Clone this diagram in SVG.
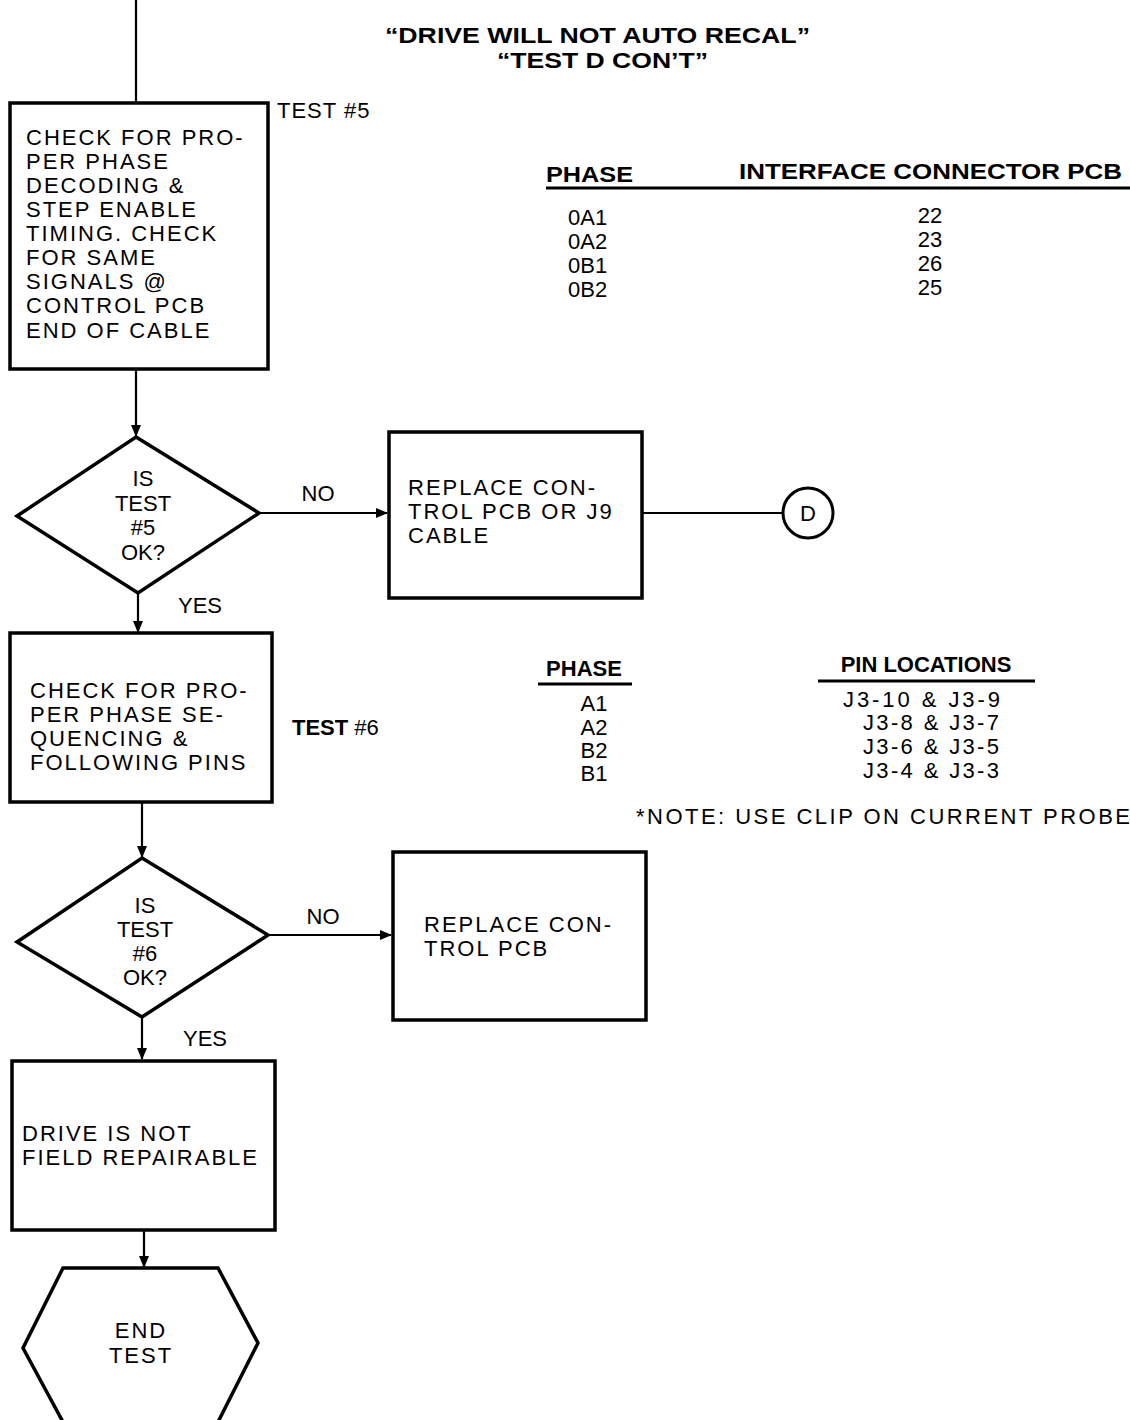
<svg xmlns="http://www.w3.org/2000/svg" width="1130" height="1420" viewBox="0 0 1130 1420">
<style>
.bx{fill:#fff;stroke:#000;stroke-width:3.5}
.ln{fill:none;stroke:#000;stroke-width:2.2}
.t{font-family:"Liberation Sans",Arial,sans-serif;font-size:22px;fill:#000}
.bt{letter-spacing:2px}
.c{text-anchor:middle}
.b{font-weight:bold}
.ul{stroke:#000;stroke-width:2.8}
</style>
<defs>
<marker id="ah" markerWidth="12" markerHeight="10" refX="11" refY="5" orient="auto" markerUnits="userSpaceOnUse">
<path d="M0,0 L12,5 L0,10 Z" fill="#000"/>
</marker>
</defs>
<rect width="1130" height="1420" fill="#fff"/>

<g id="title">
<text class="t b" x="385" y="43" font-size="26" textLength="425" lengthAdjust="spacingAndGlyphs">“DRIVE WILL NOT AUTO RECAL”</text>
<text class="t b" x="497" y="68" font-size="26" textLength="211" lengthAdjust="spacingAndGlyphs">“TEST D CON’T”</text>
</g>

<g id="connectors">
<line class="ln" x1="136" y1="0" x2="136" y2="102"/>
<line class="ln" x1="136" y1="370" x2="136" y2="436" marker-end="url(#ah)"/>
<line class="ln" x1="259" y1="513" x2="387" y2="513" marker-end="url(#ah)"/>
<line class="ln" x1="642" y1="513" x2="783" y2="513"/>
<line class="ln" x1="138" y1="593" x2="138" y2="632" marker-end="url(#ah)"/>
<line class="ln" x1="142" y1="802" x2="142" y2="857" marker-end="url(#ah)"/>
<line class="ln" x1="268" y1="935" x2="391" y2="935" marker-end="url(#ah)"/>
<line class="ln" x1="142" y1="1017" x2="142" y2="1059" marker-end="url(#ah)"/>
<line class="ln" x1="144" y1="1230" x2="144" y2="1267" marker-end="url(#ah)"/>
<text class="t" x="318" y="501" text-anchor="middle" font-size="23">NO</text>
<text class="t" x="200" y="613" text-anchor="middle" font-size="23">YES</text>
<text class="t" x="323" y="924" text-anchor="middle" font-size="23">NO</text>
<text class="t" x="205" y="1046" text-anchor="middle" font-size="23">YES</text>
</g>

<g id="test5">
<rect class="bx" x="10" y="103" width="258" height="266"/>
<text class="t bt" x="26" y="145">CHECK FOR PRO-</text>
<text class="t bt" x="26" y="169">PER PHASE</text>
<text class="t bt" x="26" y="193">DECODING &amp;</text>
<text class="t bt" x="26" y="217">STEP ENABLE</text>
<text class="t bt" x="26" y="241">TIMING. CHECK</text>
<text class="t bt" x="26" y="265">FOR SAME</text>
<text class="t bt" x="26" y="289">SIGNALS @</text>
<text class="t bt" x="26" y="313">CONTROL PCB</text>
<text class="t bt" x="26" y="338">END OF CABLE</text>
<text class="t" x="277" y="118" font-size="23" letter-spacing="1">TEST #5</text>
</g>

<g id="dec5">
<polygon class="bx" points="136,437 259,513 138,593 17,516"/>
<text class="t c" x="143" y="486">IS</text>
<text class="t c" x="143" y="511">TEST</text>
<text class="t c" x="143" y="535">#5</text>
<text class="t c" x="143" y="560">OK?</text>
</g>

<g id="replace1">
<rect class="bx" x="389" y="432" width="253" height="166"/>
<text class="t bt" x="408" y="495">REPLACE CON-</text>
<text class="t bt" x="408" y="519">TROL PCB OR J9</text>
<text class="t bt" x="408" y="543">CABLE</text>
</g>

<g id="connD">
<circle cx="808" cy="513" r="25" fill="#fff" stroke="#000" stroke-width="3"/>
<text class="t c" x="808" y="521" font-size="23">D</text>
</g>

<g id="table1">
<text class="t b" x="546" y="182" font-size="25" textLength="87" lengthAdjust="spacingAndGlyphs">PHASE</text>
<text class="t b" x="739" y="179" font-size="25" textLength="383" lengthAdjust="spacingAndGlyphs">INTERFACE CONNECTOR PCB</text>
<line class="ul" x1="546" y1="188" x2="1130" y2="188"/>
<text class="t" x="568" y="225">0A1</text>
<text class="t" x="568" y="249">0A2</text>
<text class="t" x="568" y="273">0B1</text>
<text class="t" x="568" y="297">0B2</text>
<text class="t c" x="930" y="223">22</text>
<text class="t c" x="930" y="247">23</text>
<text class="t c" x="930" y="271">26</text>
<text class="t c" x="930" y="295">25</text>
</g>

<g id="test6">
<rect class="bx" x="10" y="633" width="262" height="169"/>
<text class="t bt" x="30" y="698">CHECK FOR PRO-</text>
<text class="t bt" x="30" y="722">PER PHASE SE-</text>
<text class="t bt" x="30" y="746">QUENCING &amp;</text>
<text class="t bt" x="30" y="770">FOLLOWING PINS</text>
<text class="t" x="292" y="735" font-size="23"><tspan font-weight="bold">TEST</tspan> #6</text>
</g>

<g id="table2">
<text class="t b c" x="584" y="676" font-size="25">PHASE</text>
<line class="ul" x1="538" y1="684" x2="632" y2="684"/>
<text class="t b c" x="926" y="672" font-size="25">PIN LOCATIONS</text>
<line class="ul" x1="818" y1="681" x2="1035" y2="681"/>
<text class="t c" x="594" y="711">A1</text>
<text class="t c" x="594" y="735">A2</text>
<text class="t c" x="594" y="758">B2</text>
<text class="t c" x="594" y="781">B1</text>
<text class="t" x="843" y="707" textLength="157" lengthAdjust="spacing">J3-10 &amp; J3-9</text>
<text class="t" x="863" y="730" textLength="136" lengthAdjust="spacing">J3-8 &amp; J3-7</text>
<text class="t" x="863" y="754" textLength="136" lengthAdjust="spacing">J3-6 &amp; J3-5</text>
<text class="t" x="863" y="778" textLength="136" lengthAdjust="spacing">J3-4 &amp; J3-3</text>
<text class="t" x="636" y="824" font-size="23" textLength="494" lengthAdjust="spacing">*NOTE: USE CLIP ON CURRENT PROBE</text>
</g>

<g id="dec6">
<polygon class="bx" points="142,858 268,935 142,1017 17,942"/>
<text class="t c" x="145" y="913">IS</text>
<text class="t c" x="145" y="937">TEST</text>
<text class="t c" x="145" y="961">#6</text>
<text class="t c" x="145" y="985">OK?</text>
</g>

<g id="replace2">
<rect class="bx" x="393" y="852" width="253" height="168"/>
<text class="t bt" x="424" y="932">REPLACE CON-</text>
<text class="t bt" x="424" y="956">TROL PCB</text>
</g>

<g id="notrepair">
<rect class="bx" x="12" y="1061" width="263" height="169"/>
<text class="t bt" x="22" y="1141">DRIVE IS NOT</text>
<text class="t bt" x="22" y="1165">FIELD REPAIRABLE</text>
</g>

<g id="end">
<polygon class="bx" points="63,1268 218,1268 258,1343 218,1422 63,1422 23,1348"/>
<text class="t bt c" x="141" y="1338">END</text>
<text class="t bt c" x="141" y="1363">TEST</text>
</g>
</svg>
